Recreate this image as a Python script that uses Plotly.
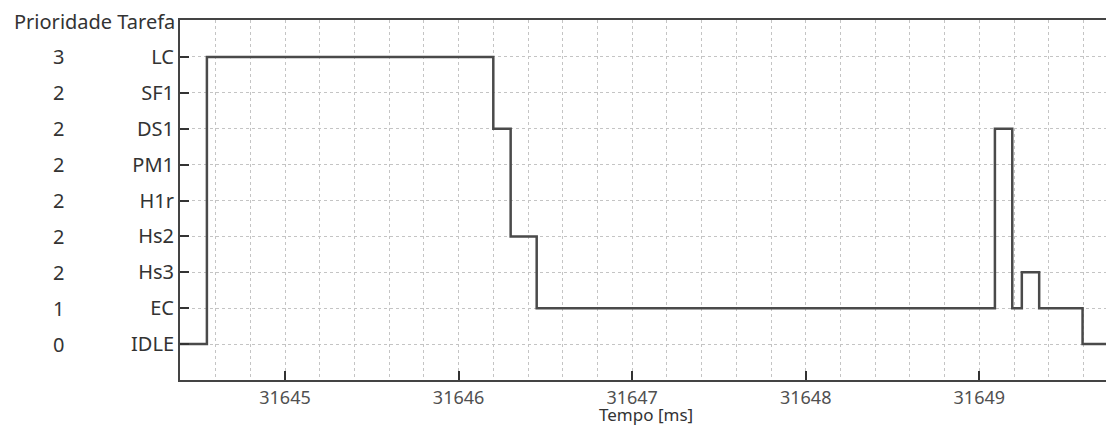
import plotly.graph_objects as go

# Categories (bottom to top) and their priorities
tasks = ["IDLE", "EC", "Hs3", "Hs2", "H1r", "PM1", "DS1", "SF1", "LC"]
priorities = ["0", "1", "2", "2", "2", "2", "2", "2", "3"]

# Step signal: time at which each state starts
times = [31644.39, 31644.55, 31646.20, 31646.30, 31646.45, 31649.09, 31649.19,
         31649.245, 31649.345, 31649.595, 31649.75]
states = ["IDLE", "LC", "DS1", "Hs2", "EC", "DS1", "EC", "Hs3", "EC", "IDLE", "IDLE"]

x_ticks = [31645, 31646, 31647, 31648, 31649]

FONT = "Noto Sans"

# plot area spans x 180..1106, y 20..380
L, T, W, H = 180, 20, 1106, 426
PW = W - L
PH = 360

fig = go.Figure()
fig.add_trace(go.Scatter(
    x=times, y=states, mode="lines", line_shape="hv",
    line=dict(color="#4a4a4a", width=2.5), showlegend=False, hoverinfo="skip",
))

fig.update_xaxes(
    range=[31644.395, 31649.73],
    tickvals=x_ticks, ticktext=[str(v) for v in x_ticks],
    ticks="inside", ticklen=9, tickcolor="#333", tickwidth=1.5,
    showline=True, linecolor="#444", linewidth=2, mirror=True,
    showgrid=True, gridcolor="#c4c4c4", griddash="dot", gridwidth=1,
    minor=dict(dtick=0.2, tick0=31645, showgrid=True, gridcolor="#c4c4c4", griddash="dot", gridwidth=1),
    tickfont=dict(family=FONT, size=18, color="#505050"),
    zeroline=False, automargin=False,
)
fig.update_yaxes(
    type="category", categoryorder="array", categoryarray=tasks,
    range=[-1, 9.03],
    ticks="inside", ticklen=9, tickcolor="#333", tickwidth=1.5,
    showline=True, linecolor="#444", linewidth=2,
    showgrid=True, gridcolor="#c4c4c4", griddash="dot", gridwidth=1,
    tickfont=dict(family=FONT, size=20, color="#333"),
    zeroline=False, automargin=False,
)

for t, p in zip(tasks, priorities):
    fig.add_annotation(
        xref="paper", yref="y", x=(58 - L) / PW, y=t, text=p, showarrow=False,
        xanchor="center", yanchor="middle", font=dict(family=FONT, size=20, color="#333"),
    )
fig.add_annotation(
    xref="paper", yref="paper", x=(177 - L) / PW, y=(PH - (22 - T)) / PH, text="Prioridade Tarefa",
    showarrow=False, xanchor="right", yanchor="middle",
    font=dict(family=FONT, size=20, color="#333"),
)
# x-axis title
fig.add_annotation(
    xref="paper", yref="paper", x=(646 - L) / PW, y=(PH - (414 - T)) / PH, text="Tempo [ms]",
    showarrow=False, xanchor="center", yanchor="middle",
    font=dict(family=FONT, size=17, color="#333"),
)

fig.update_layout(
    width=W, height=H,
    margin=dict(l=L, r=0, t=T, b=H - T - PH, autoexpand=False),
    plot_bgcolor="white", paper_bgcolor="white",
)

fig.write_html(
    "out.html",
    config={"displayModeBar": False},
    post_script="document.body.style.margin='0';document.body.style.overflow='hidden';",
)
